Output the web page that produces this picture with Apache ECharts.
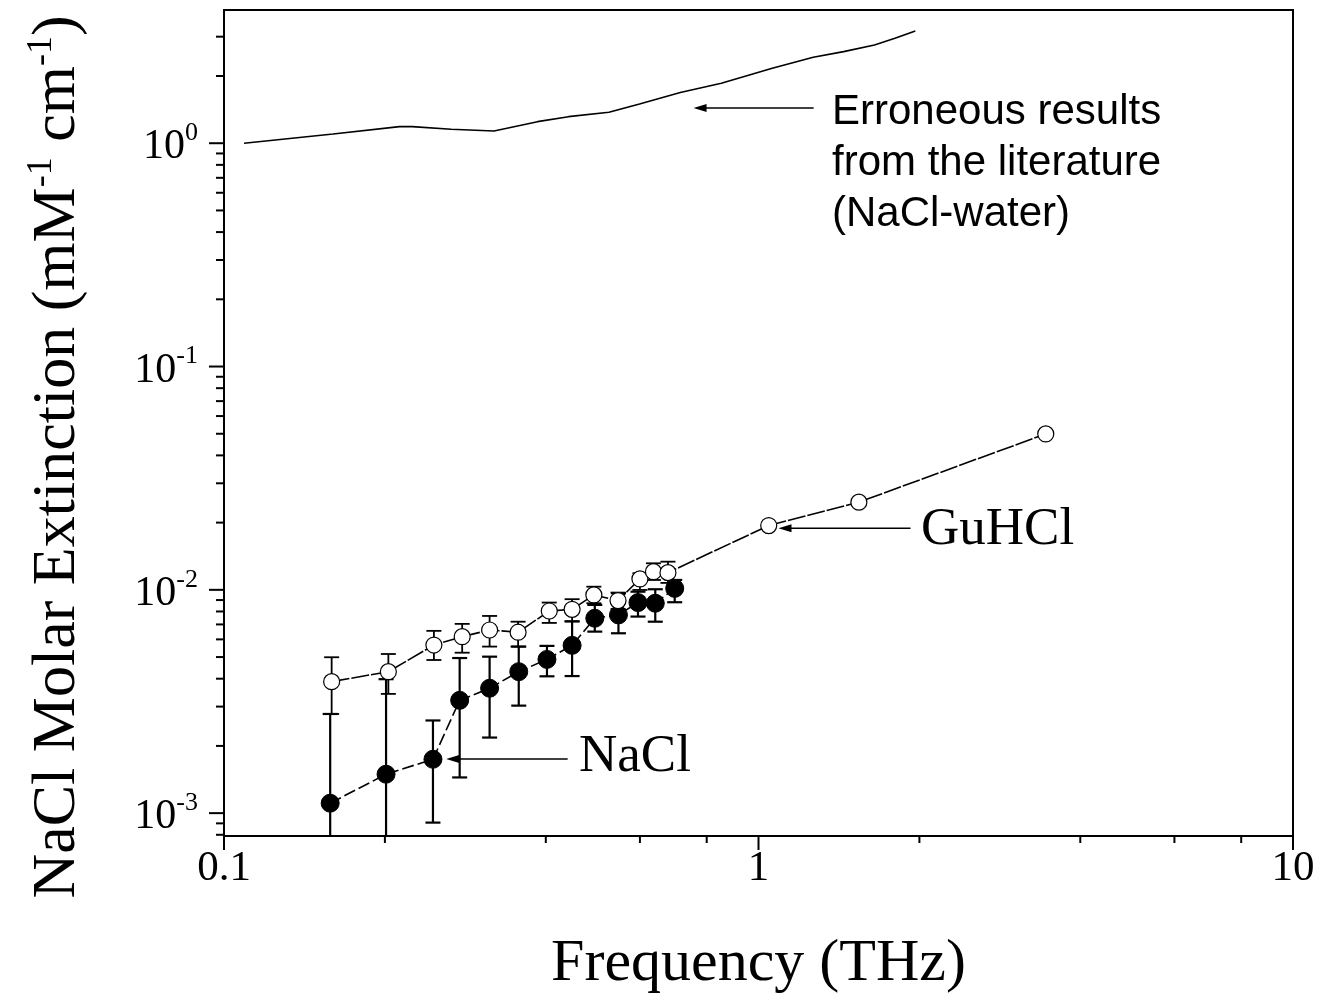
<!DOCTYPE html>
<html>
<head>
<meta charset="utf-8">
<script src="https://cdn.jsdelivr.net/npm/echarts@6/dist/echarts.min.js"></script>
<style>
html,body{margin:0;padding:0;background:#fff;}
#chart{width:1322px;height:998px;}
</style>
</head>
<body>
<div id="chart"></div>
<script>
// ---------- data ----------
const X_MIN = 0.1, X_MAX = 10;
const Y_MIN = 7.9e-4, Y_MAX = 3.95;

// Erroneous literature curve (NaCl-water)
const ERR_FREQ = [0.109, 0.160, 0.213, 0.225, 0.266, 0.320, 0.386, 0.441, 0.525, 0.599, 0.714, 0.852, 1.061, 1.266, 1.443, 1.648, 1.800, 1.965];
const ERR_VAL  = [1.00, 1.10, 1.187, 1.187, 1.155, 1.135, 1.249, 1.315, 1.377, 1.50, 1.686, 1.857, 2.167, 2.427, 2.572, 2.755, 2.953, 3.184];

// NaCl (filled circles)
const NACL_FREQ = [0.158, 0.201, 0.246, 0.276, 0.314, 0.356, 0.402, 0.448, 0.494, 0.547, 0.595, 0.641, 0.697];
const NACL_VAL  = [1.108e-3, 1.494e-3, 1.743e-3, 3.20e-3, 3.625e-3, 4.30e-3, 4.88e-3, 5.64e-3, 7.46e-3, 7.72e-3, 8.77e-3, 8.71e-3, 1.015e-2];
const NACL_HIGH = [2.78e-3, 3.98e-3, 2.60e-3, 4.95e-3, 5.02e-3, 5.57e-3, 5.61e-3, 7.22e-3, 8.56e-3, 9.66e-3, 9.81e-3, 1.006e-2, 1.107e-2];
const NACL_LOW  = [1e-4, 1e-4, 9.07e-4, 1.445e-3, 2.18e-3, 3.03e-3, 4.10e-3, 4.11e-3, 6.50e-3, 6.39e-3, 7.59e-3, 7.20e-3, 8.80e-3];

// GuHCl (open circles)
const GU_FREQ = [0.159, 0.203, 0.247, 0.279, 0.314, 0.355, 0.406, 0.448, 0.492, 0.546, 0.600, 0.636, 0.677, 1.045, 1.541, 3.447];
const GU_VAL  = [3.88e-3, 4.30e-3, 5.66e-3, 6.17e-3, 6.61e-3, 6.46e-3, 8.04e-3, 8.18e-3, 9.49e-3, 8.95e-3, 1.119e-2, 1.206e-2, 1.194e-2, 1.94e-2, 2.47e-2, 4.99e-2];
const GU_HIGH = [4.99e-3, 5.16e-3, 6.55e-3, 7.04e-3, 7.64e-3, 7.20e-3, 8.77e-3, 9.08e-3, 1.033e-2, 9.72e-3, 1.187e-2, 1.315e-2, 1.337e-2];
const GU_LOW  = [2.78e-3, 3.42e-3, 4.85e-3, 5.23e-3, 5.57e-3, 5.57e-3, 7.11e-3, 7.23e-3, 8.71e-3, 8.21e-3, 9.99e-3, 1.107e-2, 1.074e-2];

// tick values
const X_MAJOR_TICKS = [0.1, 1, 10];
const X_MINOR_TICKS = [0.2, 0.4, 0.6, 0.8, 2, 4, 6, 8];
const Y_MAJOR_TICKS = [1e-3, 1e-2, 1e-1, 1];
const Y_MINOR_TICKS = [8e-4, 9e-4,
  2e-3, 3e-3, 4e-3, 5e-3, 6e-3, 7e-3, 8e-3, 9e-3,
  2e-2, 3e-2, 4e-2, 5e-2, 6e-2, 7e-2, 8e-2, 9e-2,
  0.2, 0.3, 0.4, 0.5, 0.6, 0.7, 0.8, 0.9, 2, 3];

// annotation arrows: [fromX, fromY, toX, toY]
const ARROW_ERR   = [1.268, 1.439, 0.756, 1.439];
const ARROW_GUHCL = [1.925, 0.01887, 1.09, 0.01887];
const ARROW_NACL  = [0.4395, 1.748e-3, 0.2604, 1.748e-3];

const X_LABEL = 'Frequency (THz)';
const Y_LABEL = 'NaCl Molar Extinction (mM{s|-1} cm{s|-1})';

// ---------- chart ----------
const SERIF = 'Liberation Serif';
const chart = echarts.init(document.getElementById('chart'), null, {renderer: 'canvas'});

function zip(a, b) { return a.map((v, i) => [v, b[i]]); }
function errData(fx, lo, hi) { return lo.map((v, i) => [fx[i], v, hi[i]]); }

function errorBarRender(lw, cap) {
  return function (params, api) {
    const x = api.value(0);
    const p1 = api.coord([x, api.value(2)]);
    const p2 = api.coord([x, api.value(1)]);
    const st = {stroke: '#000', lineWidth: lw, fill: null};
    return {type: 'group', children: [
      {type: 'line', shape: {x1: p1[0], y1: p1[1], x2: p2[0], y2: p2[1]}, style: st},
      {type: 'line', shape: {x1: p1[0] - cap, y1: p1[1], x2: p1[0] + cap, y2: p1[1]}, style: st},
      {type: 'line', shape: {x1: p2[0] - cap, y1: p2[1], x2: p2[0] + cap, y2: p2[1]}, style: st}
    ]};
  };
}

const tickData = [].concat(
  X_MAJOR_TICKS.map(v => [v, Y_MIN, 0]),
  X_MINOR_TICKS.map(v => [v, Y_MIN, 1]),
  Y_MAJOR_TICKS.map(v => [X_MIN, v, 2]),
  Y_MINOR_TICKS.map(v => [X_MIN, v, 3])
);

const arrowData = [ARROW_ERR, ARROW_GUHCL, ARROW_NACL];

const option = {
  animation: false,
  backgroundColor: '#fff',
  grid: {left: 224, right: 29, top: 10, bottom: 162, containLabel: false, outerBoundsMode: 'none',
         show: true, borderColor: '#000', borderWidth: 2, backgroundColor: 'transparent'},
  xAxis: {
    type: 'log', logBase: 10, min: X_MIN, max: X_MAX,
    axisLine: {show: true, lineStyle: {color: '#000', width: 2}},
    axisTick: {show: false},
    splitLine: {show: false},
    minorTick: {show: false},
    axisLabel: {
      color: '#000', fontFamily: SERIF, fontSize: 43, margin: 11,
      formatter: v => String(+(+v).toPrecision(3))
    },
    name: X_LABEL, nameLocation: 'middle', nameGap: 98,
    nameTextStyle: {color: '#000', fontFamily: SERIF, fontSize: 60}
  },
  yAxis: {
    type: 'log', logBase: 10, min: Y_MIN, max: Y_MAX,
    axisLine: {show: true, lineStyle: {color: '#000', width: 2}},
    axisTick: {show: false},
    splitLine: {show: false},
    minorTick: {show: false},
    axisLabel: {
      color: '#000', fontFamily: SERIF, fontSize: 42, margin: 26,
      showMinLabel: false, showMaxLabel: false,
      formatter: v => '{b|10}{s|' + Math.round(Math.log10(v)) + '}',
      rich: {
        b: {fontFamily: SERIF, fontSize: 42, color: '#000', lineHeight: 46, padding: [8, 0, 0, 0]},
        s: {fontFamily: SERIF, fontSize: 26, color: '#000', verticalAlign: 'top', lineHeight: 26}
      }
    },
    name: Y_LABEL, nameLocation: 'middle', nameGap: 132,
    nameTextStyle: {
      color: '#000', fontFamily: SERIF, fontSize: 62, lineHeight: 68,
      padding: [0, 68, 0, 0],
      rich: {s: {fontFamily: SERIF, fontSize: 36, color: '#000', verticalAlign: 'top', lineHeight: 36}}
    }
  },
  series: [
    {
      name: 'Erroneous', type: 'line', data: zip(ERR_FREQ, ERR_VAL),
      showSymbol: false, symbol: 'none', lineStyle: {color: '#000', width: 1.6}, z: 3
    },
    {
      name: 'NaCl err', type: 'custom', data: errData(NACL_FREQ, NACL_LOW, NACL_HIGH),
      renderItem: errorBarRender(2.2, 7.5), clip: true, z: 2, silent: true
    },
    {
      name: 'GuHCl err', type: 'custom', data: errData(GU_FREQ, GU_LOW, GU_HIGH),
      renderItem: errorBarRender(1.8, 7.5), clip: true, z: 2, silent: true
    },
    {
      name: 'NaCl', type: 'line', data: zip(NACL_FREQ, NACL_VAL),
      symbol: 'circle', symbolSize: 18, showAllSymbol: true,
      itemStyle: {color: '#000', borderColor: '#000', borderWidth: 1},
      lineStyle: {color: '#000', width: 1.6, type: [12, 4]}, z: 4
    },
    {
      name: 'GuHCl', type: 'line', data: zip(GU_FREQ, GU_VAL),
      symbol: 'circle', symbolSize: 16, showAllSymbol: true,
      itemStyle: {color: '#fff', borderColor: '#000', borderWidth: 1.2},
      lineStyle: {color: '#000', width: 1.6, type: [18, 2]}, z: 4
    },
    {
      name: 'ticks', type: 'custom', data: tickData, silent: true, clip: false, z: 6,
      renderItem: function (params, api) {
        const code = api.value(2);
        const p = api.coord([api.value(0), api.value(1)]);
        let shape;
        if (code < 2) {
          const len = code === 0 ? 14 : 7;
          shape = {x1: p[0], y1: p[1], x2: p[0], y2: p[1] + len};
        } else {
          const len = code === 2 ? 15 : 8;
          shape = {x1: p[0], y1: p[1], x2: p[0] - len, y2: p[1]};
        }
        return {type: 'line', shape: shape, style: {stroke: '#000', lineWidth: 2}};
      }
    },
    {
      name: 'arrows', type: 'custom', data: arrowData, silent: true, clip: false, z: 7,
      renderItem: function (params, api) {
        const a = api.coord([api.value(0), api.value(1)]);
        const b = api.coord([api.value(2), api.value(3)]);
        const dir = b[0] < a[0] ? -1 : 1;
        const hl = 13, hw = 4;
        return {type: 'group', children: [
          {type: 'line', shape: {x1: a[0], y1: a[1], x2: b[0] - dir * hl * 0.6, y2: b[1]}, style: {stroke: '#000', lineWidth: 1.6}},
          {type: 'polygon', shape: {points: [[b[0], b[1]], [b[0] - dir * hl, b[1] - hw], [b[0] - dir * hl, b[1] + hw]]}, style: {fill: '#000'}}
        ]};
      }
    }
  ],
  graphic: [
    {type: 'text', left: 832, top: 87, silent: true,
     style: {text: 'Erroneous results\nfrom the literature\n(NaCl-water)', font: '42px "Liberation Sans"', fill: '#000', lineHeight: 51}},
    {type: 'text', left: 921, top: 502, silent: true,
     style: {text: 'GuHCl', font: '53px "Liberation Serif"', fill: '#000', lineHeight: 56}},
    {type: 'text', left: 579, top: 729, silent: true,
     style: {text: 'NaCl', font: '53px "Liberation Serif"', fill: '#000', lineHeight: 56}}
  ]
};
chart.setOption(option);
</script>
</body>
</html>
